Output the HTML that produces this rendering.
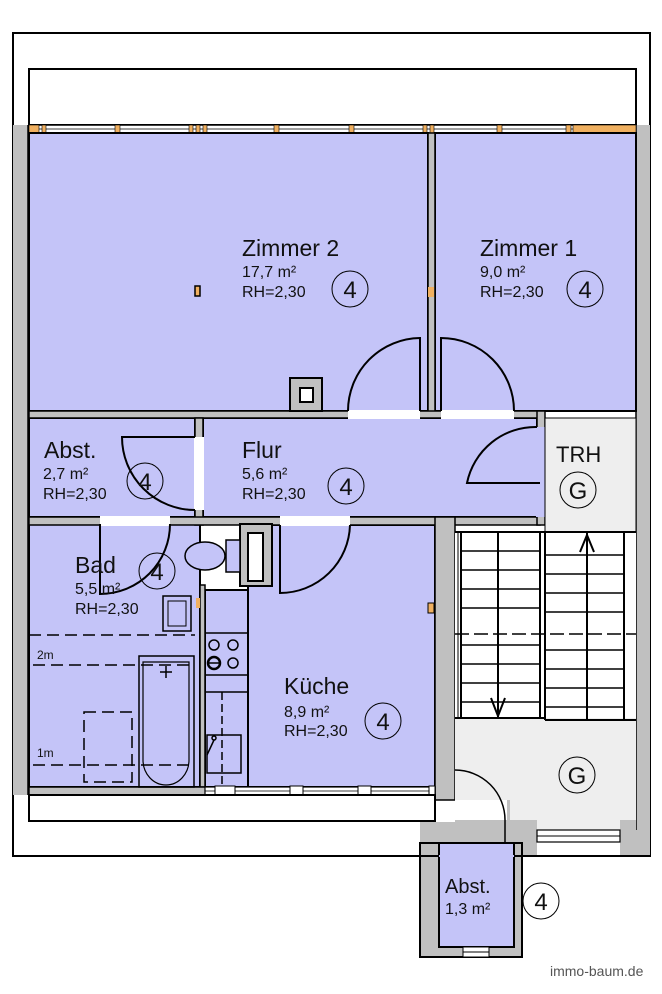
<!DOCTYPE html>
<html><head><meta charset="utf-8"><style>
html,body{margin:0;padding:0;background:#fff;width:662px;height:994px;overflow:hidden}
svg{display:block}
text{font-family:"Liberation Sans",sans-serif;fill:#111}
</style></head><body>
<svg width="662" height="994" viewBox="0 0 662 994" xmlns="http://www.w3.org/2000/svg">
<rect x="13" y="33" width="637" height="823" fill="#fff" stroke="#000" stroke-width="2"/>
<rect x="29" y="69" width="607" height="56" fill="#fff" stroke="#000" stroke-width="2"/>
<rect x="13" y="125" width="16" height="670" fill="#c0c0c0"/>
<rect x="636" y="125" width="14" height="731" fill="#c0c0c0"/>
<line x1="28" y1="125" x2="28" y2="795" stroke="#000" stroke-width="1.5"/>
<line x1="636" y1="133" x2="636" y2="830" stroke="#000" stroke-width="1.5"/>
<rect x="29" y="125" width="607" height="8" fill="#fff" stroke="#000" stroke-width="1.5"/>
<line x1="29" y1="129" x2="636" y2="129" stroke="#000" stroke-width="0.8"/>
<g fill="#f0b060" stroke="#000" stroke-width="0.6">
<rect x="29" y="125" width="10" height="8"/><rect x="42" y="125" width="4" height="8"/>
<rect x="115" y="125" width="5" height="8"/><rect x="189" y="125" width="4" height="8"/>
<rect x="196" y="125" width="4" height="8"/><rect x="203" y="125" width="4" height="8"/>
<rect x="274" y="125" width="5" height="8"/><rect x="349" y="125" width="5" height="8"/>
<rect x="423" y="125" width="4" height="8"/><rect x="430" y="125" width="4" height="8"/>
<rect x="497" y="125" width="5" height="8"/><rect x="566" y="125" width="5" height="8"/>
<rect x="573" y="125" width="63" height="8"/>
</g>
<g fill="#c4c4f8" stroke="#000" stroke-width="2">
<rect x="29" y="133" width="399" height="278"/>
<rect x="435" y="133" width="201" height="278"/>
<rect x="29" y="418" width="166" height="99"/>
<rect x="203" y="418" width="334" height="99"/>
<rect x="29" y="524" width="171" height="263"/>
<rect x="248" y="525" width="187" height="262"/>
<rect x="205" y="590" width="43" height="197"/>
</g>
<rect x="428" y="133" width="7" height="285" fill="#c0c0c0" stroke="#000" stroke-width="1.5"/>
<rect x="29" y="411" width="511" height="7" fill="#c0c0c0" stroke="#000" stroke-width="1.5"/>
<rect x="195" y="418" width="8" height="107" fill="#c0c0c0" stroke="#000" stroke-width="1.5"/>
<rect x="29" y="517" width="511" height="8" fill="#c0c0c0" stroke="#000" stroke-width="1.5"/>
<rect x="537" y="411" width="8" height="114" fill="#c0c0c0" stroke="#000" stroke-width="1.5"/>
<rect x="200" y="585" width="5" height="202" fill="#c0c0c0" stroke="#000" stroke-width="1.5"/>
<rect x="435" y="517" width="20" height="283" fill="#c0c0c0" stroke="#000" stroke-width="1.5"/>
<rect x="29" y="787" width="406" height="8" fill="#c0c0c0" stroke="#000" stroke-width="1.5"/>
<rect x="348" y="410" width="72" height="9" fill="#fff"/>
<rect x="441" y="410" width="73" height="9" fill="#fff"/>
<rect x="194" y="437" width="10" height="73" fill="#fff"/>
<rect x="100" y="516" width="70" height="10" fill="#fff"/>
<rect x="280" y="516" width="70" height="10" fill="#fff"/>
<rect x="536" y="427" width="10" height="90" fill="#c4c4f8"/>
<rect x="205" y="787" width="230" height="8" fill="#fff" stroke="#000" stroke-width="1.2"/>
<line x1="205" y1="791" x2="435" y2="791" stroke="#000" stroke-width="0.8"/>
<g fill="#fff" stroke="#000" stroke-width="1"><rect x="215" y="786" width="20" height="9"/><rect x="290" y="786" width="13" height="9"/><rect x="358" y="786" width="13" height="9"/><rect x="429" y="786" width="6" height="9"/></g>
<rect x="29" y="795" width="406" height="26" fill="#fff" stroke="#000" stroke-width="2"/>
<g fill="none" stroke="#000" stroke-width="2">
<path d="M420 411 V338 A73 73 0 0 0 348 411"/>
<path d="M441 411 V338 A73 73 0 0 1 514 411"/>
<path d="M195 437 H122 A73 73 0 0 0 195 510"/>
<path d="M100 524 V594 A70 70 0 0 0 170 524"/>
<path d="M280 525 V593 A70 70 0 0 0 350 525"/>
<path d="M540 483 H467 A70 70 0 0 1 537 427"/>
</g>
<rect x="290" y="378" width="32" height="33" fill="#c0c0c0" stroke="#000" stroke-width="2"/>
<rect x="300" y="388" width="13" height="14" fill="#fff" stroke="#000" stroke-width="2"/>
<rect x="195" y="286" width="5" height="10" fill="#f0b060" stroke="#000" stroke-width="1.5"/>
<rect x="428" y="287" width="6" height="10" fill="#f0b060"/>
<rect x="428" y="603" width="6" height="10" fill="#f0b060" stroke="#000"/>
<rect x="196" y="598" width="4" height="10" fill="#f0b060"/>
<rect x="240" y="524" width="32" height="62" fill="#c0c0c0" stroke="#000" stroke-width="2"/>
<rect x="248" y="533" width="15" height="48" fill="#fff" stroke="#000" stroke-width="2"/>
<rect x="226" y="540" width="14" height="32" fill="#c4c4f8" stroke="#000" stroke-width="1.5"/>
<ellipse cx="205" cy="556" rx="20" ry="14" fill="#c4c4f8" stroke="#000" stroke-width="1.5"/>
<rect x="163" y="596" width="28" height="35" fill="#c4c4f8" stroke="#000" stroke-width="1.5"/>
<rect x="168" y="601" width="18" height="25" fill="none" stroke="#000" stroke-width="1"/>
<rect x="139" y="656" width="55" height="131" fill="none" stroke="#000" stroke-width="1.5"/>
<path d="M143 662 H189 V760 A23 25 0 0 1 143 760 Z" fill="none" stroke="#000" stroke-width="1.2"/>
<path d="M160 672 h12 M166 666 v12" stroke="#000" stroke-width="1.5"/>
<g stroke="#000" stroke-width="1.5" stroke-dasharray="12,6" fill="none">
<line x1="29" y1="635" x2="195" y2="635"/>
<line x1="33" y1="665" x2="195" y2="665"/>
<line x1="33" y1="765" x2="195" y2="765"/>
<rect x="84" y="712" width="48" height="70"/>
</g>
<text x="37" y="659" font-size="12">2m</text>
<text x="37" y="757" font-size="12">1m</text>
<g stroke="#000" stroke-width="1.5" fill="none">
<line x1="205" y1="633" x2="248" y2="633"/>
<line x1="205" y1="675" x2="248" y2="675"/>
<line x1="205" y1="692" x2="248" y2="692"/>
<line x1="222" y1="692" x2="222" y2="787" stroke-dasharray="8,4"/>
<rect x="207" y="735" width="34" height="38"/>
<circle cx="214" cy="645" r="5"/><circle cx="233" cy="645" r="5"/>
<circle cx="214" cy="663" r="6" stroke-width="2.5"/><circle cx="233" cy="663" r="5"/>
<line x1="208" y1="663" x2="220" y2="663"/>
<line x1="207" y1="755" x2="214" y2="740"/><circle cx="214" cy="738" r="2"/>
</g>
<rect x="545" y="418" width="91" height="114" fill="#eeeeee" stroke="#000" stroke-width="1"/>
<rect x="455" y="717" width="181" height="113" fill="#eeeeee"/>
<rect x="455" y="532" width="181" height="186" fill="#fff"/>
<g stroke="#000" stroke-width="2" fill="none">
<line x1="455" y1="532" x2="636" y2="532"/>
<line x1="455" y1="718" x2="545" y2="718"/>
<line x1="545" y1="720" x2="636" y2="720"/>
<line x1="540" y1="532" x2="540" y2="718"/>
<line x1="545" y1="532" x2="545" y2="720"/>
<line x1="461" y1="532" x2="461" y2="718"/>
<line x1="458" y1="532" x2="458" y2="718" stroke-width="1"/>
<line x1="498" y1="532" x2="498" y2="718"/>
<line x1="587" y1="532" x2="587" y2="720"/>
<line x1="624" y1="532" x2="624" y2="720"/>
</g>
<g stroke="#000" stroke-width="1.5">
<line x1="461" y1="551" x2="540" y2="551"/><line x1="461" y1="570" x2="540" y2="570"/>
<line x1="461" y1="589" x2="540" y2="589"/><line x1="461" y1="608" x2="540" y2="608"/>
<line x1="461" y1="645" x2="540" y2="645"/><line x1="461" y1="664" x2="540" y2="664"/>
<line x1="461" y1="683" x2="540" y2="683"/><line x1="461" y1="702" x2="540" y2="702"/>
<line x1="545" y1="555" x2="624" y2="555"/><line x1="545" y1="574" x2="624" y2="574"/>
<line x1="545" y1="593" x2="624" y2="593"/><line x1="545" y1="612" x2="624" y2="612"/>
<line x1="545" y1="650" x2="624" y2="650"/><line x1="545" y1="669" x2="624" y2="669"/>
<line x1="545" y1="688" x2="624" y2="688"/><line x1="545" y1="707" x2="624" y2="707"/>
</g>
<line x1="455" y1="634" x2="636" y2="634" stroke="#000" stroke-width="1.5" stroke-dasharray="14,5"/>
<path d="M491 698 L498 716 L505 698 M580 552 L587 535 L594 552" fill="none" stroke="#000" stroke-width="2"/>
<rect x="455" y="800" width="55" height="43" fill="#c0c0c0"/>
<rect x="420" y="822" width="35" height="34" fill="#c0c0c0"/>
<rect x="455" y="800" width="52" height="20" fill="#fff"/>
<rect x="507" y="820" width="30" height="36" fill="#c0c0c0"/>
<rect x="620" y="820" width="16" height="36" fill="#c0c0c0"/>
<rect x="537" y="830" width="83" height="12" fill="#fff" stroke="#000" stroke-width="1.2"/>
<line x1="537" y1="836" x2="620" y2="836" stroke="#000"/>
<path d="M455 770 A50 50 0 0 1 505 820 V842" fill="none" stroke="#000" stroke-width="1.5"/>
<rect x="420" y="843" width="102" height="114" fill="#c0c0c0" stroke="#000" stroke-width="2"/>
<rect x="439" y="843" width="75" height="104" fill="#c4c4f8" stroke="#000" stroke-width="2"/>
<rect x="463" y="947" width="26" height="10" fill="#fff" stroke="#000" stroke-width="1"/>
<line x1="463" y1="952" x2="489" y2="952" stroke="#000"/>
<line x1="13" y1="856" x2="650" y2="856" stroke="#000" stroke-width="2"/>
<rect x="439" y="855" width="75" height="2" fill="#c4c4f8"/>
<g fill="none" stroke="#000" stroke-width="1">
<circle cx="350" cy="289" r="18"/><circle cx="585" cy="289" r="18"/>
<circle cx="145" cy="481" r="18"/><circle cx="346" cy="486" r="18"/>
<circle cx="157" cy="571" r="18"/><circle cx="383" cy="721" r="18"/>
<circle cx="578" cy="490" r="18"/><circle cx="577" cy="775" r="18"/>
<circle cx="541" cy="901" r="18"/>
</g>
<g font-size="24" text-anchor="middle">
<text x="350" y="298">4</text><text x="585" y="298">4</text>
<text x="145" y="490">4</text><text x="346" y="495">4</text>
<text x="157" y="580">4</text><text x="383" y="730">4</text>
<text x="578" y="499">G</text><text x="577" y="784">G</text>
<text x="541" y="910">4</text>
</g>
<g font-size="23">
<text x="242" y="256">Zimmer 2</text><text x="480" y="256">Zimmer 1</text>
<text x="44" y="458">Abst.</text><text x="242" y="458">Flur</text>
<text x="75" y="573">Bad</text><text x="284" y="694">Küche</text>
<text x="556" y="462" font-size="22">TRH</text>
<text x="445" y="893" font-size="20">Abst.</text>
</g>
<g font-size="16">
<text x="242" y="277">17,7 m²</text><text x="242" y="297">RH=2,30</text>
<text x="480" y="277">9,0 m²</text><text x="480" y="297">RH=2,30</text>
<text x="43" y="479">2,7 m²</text><text x="43" y="499">RH=2,30</text>
<text x="242" y="479">5,6 m²</text><text x="242" y="499">RH=2,30</text>
<text x="75" y="594">5,5 m²</text><text x="75" y="614">RH=2,30</text>
<text x="284" y="717">8,9 m²</text><text x="284" y="736">RH=2,30</text>
<text x="445" y="914">1,3 m²</text>
</g>
<text x="550" y="976" font-size="14" style="fill:#555">immo-baum.de</text>
</svg>
</body></html>
